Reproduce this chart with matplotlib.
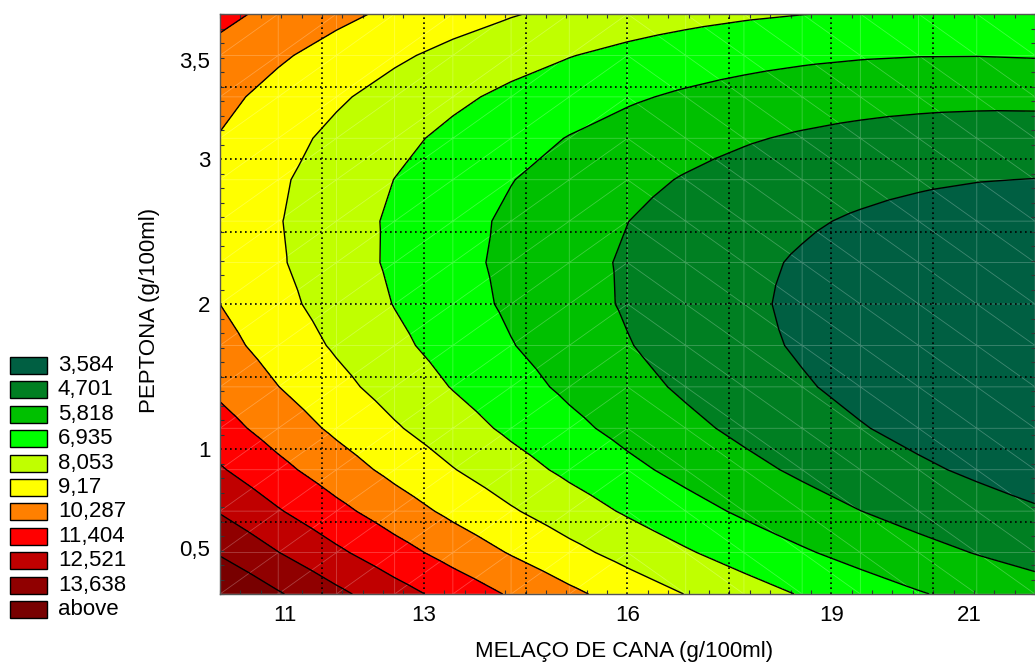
import numpy as np
import matplotlib.pyplot as plt
import matplotlib.tri as mtri
from matplotlib.patches import Rectangle

plt.rcParams['font.family'] = ['Liberation Sans', 'DejaVu Sans']

# ---- response surface (coded units, -2..2 on both factors) ----
# z = b0 + b1*x + b2*y + b11*x^2 + b22*y^2 + b12*x*y
coef = [4.596, -1.658, -0.2975, 0.314, 0.875, 0.3745]

# contour levels and their fill colours (last colour = "above")
levels = [3.584, 4.701, 5.818, 6.935, 8.053, 9.17, 10.287, 11.404, 12.521, 13.638]
fill_colors = ['#005f42', '#007f22', '#00c000', '#00ff00', '#c0ff00', '#ffff00',
               '#ff8000', '#ff0000', '#c00000', '#900000', '#780000']

# axis ticks (coded position -> label)
x_tick_pos = [-1.68, -1.0, 0.0, 1.0, 1.68]
x_tick_lbl = ['11', '13', '16', '19', '21']
y_tick_pos = [-1.68, -1.0, 0.0, 1.0, 1.68]
y_tick_lbl = ['0,5', '1', '2', '3', '3,5']

n_mesh = 14  # cells per side of the fitting mesh

# ---- build mesh + triangulation ----
g = np.linspace(-2, 2, n_mesh + 1)
X, Y = np.meshgrid(g, g)
xs, ys = X.ravel(), Y.ravel()
b0, b1, b2, b11, b22, b12 = coef
Z = b0 + b1 * xs + b2 * ys + b11 * xs**2 + b22 * ys**2 + b12 * xs * ys

n = n_mesh + 1
tris = []
for j in range(n_mesh):
    for i in range(n_mesh):
        p00 = j * n + i
        p10 = j * n + i + 1
        p01 = (j + 1) * n + i
        p11 = (j + 1) * n + i + 1
        if i < n_mesh // 2:   # "/" diagonal on the left half
            tris += [(p00, p10, p11), (p00, p11, p01)]
        else:                 # "\" diagonal on the right half
            tris += [(p00, p10, p01), (p10, p11, p01)]
tri = mtri.Triangulation(xs, ys, np.array(tris))

# ---- figure ----
W, H = 1035, 669
fig = plt.figure(figsize=(W / 100, H / 100), dpi=100)
ax = fig.add_axes([220 / W, 1 - 594 / H, (1035 - 220) / W, (594 - 14) / H])

bounds = [Z.min() - 1] + levels + [Z.max() + 1]
ax.tricontourf(tri, Z, levels=bounds, colors=fill_colors)
ax.triplot(tri, color='white', alpha=0.25, lw=0.6)
ax.tricontour(tri, Z, levels=levels, colors='black', linewidths=1.0)

ax.set_xlim(-2, 2)
ax.set_ylim(-2, 2)

# dotted grid every 0.5 coded units
for v in np.arange(-1.5, 1.6, 0.5):
    ax.axvline(v, color='black', lw=1.2, ls=(0, (1, 2)), zorder=3)
    ax.axhline(v, color='black', lw=1.2, ls=(0, (1, 2)), zorder=3)

ax.set_xticks(x_tick_pos)
ax.set_xticklabels(x_tick_lbl)
ax.set_yticks(y_tick_pos)
ax.set_yticklabels(y_tick_lbl)
ax.set_xticks(np.arange(-2, 2.01, 0.1), minor=True)
ax.set_yticks(np.arange(-2, 2.01, 0.1), minor=True)
ax.tick_params(which='major', length=0, labelsize=16)
ax.tick_params(axis='x', which='major', pad=8)
ax.tick_params(axis='y', which='major', pad=7)
ax.tick_params(which='minor', direction='in', length=3, width=0.8, color='#333333',
               top=True, right=True)
for s in ax.spines.values():
    s.set_color('#555555')
    s.set_linewidth(1.0)
    s.set_zorder(4)

fig.text(624 / W, 1 - 652 / H, 'MELAÇO DE CANA (g/100ml)', ha='center', va='center', fontsize=16)
fig.text(150 / W, 1 - 310 / H, 'PEPTONA (g/100ml)', ha='center', va='center',
         rotation=90, fontsize=16)

# ---- legend ----
leg_labels = [('%.3f' % v).rstrip('0').replace('.', ',') for v in levels] + ['above']
for k, (lbl, col) in enumerate(zip(leg_labels, fill_colors)):
    top = 357 + k * 24.4
    fig.patches.append(Rectangle((10 / W, 1 - (top + 17) / H), 37 / W, 17 / H,
                                 transform=fig.transFigure, facecolor=col,
                                 edgecolor='black', lw=1.0))
    fig.text(58 / W, 1 - (top + 8.5) / H, lbl, ha='left', va='center', fontsize=16)

fig.savefig('out.png', dpi=100)
